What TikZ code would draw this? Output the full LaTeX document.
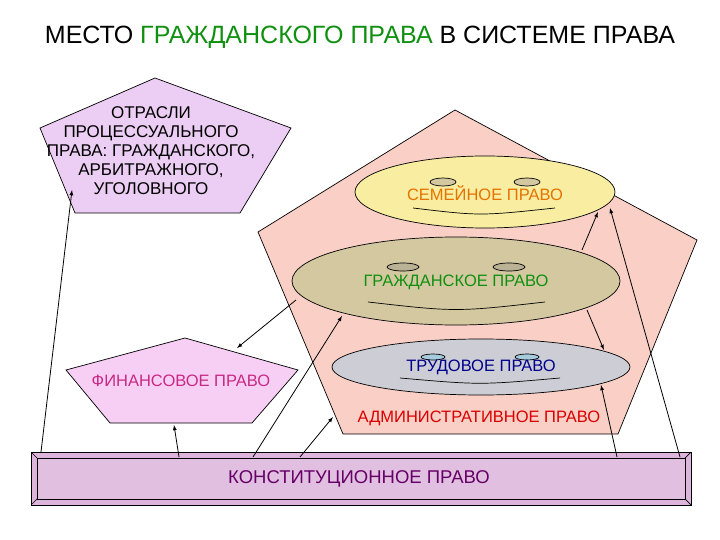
\documentclass[tikz,border=0pt]{standalone}
\usepackage{fontspec}
\setmainfont{Liberation Sans}
\begin{document}
\begin{tikzpicture}[x=1pt,y=-1pt,
  lbl/.style={font=\fontsize{16.5}{19}\selectfont,align=center,inner sep=0pt},
  arr/.style={-latex,line width=0.8pt},
  ln/.style={line width=0.7pt}]
\useasboundingbox (0,0) rectangle (720,540);
\definecolor{pinkbg}{HTML}{F9CFC6}
\definecolor{lila}{HTML}{ECCDF3}
\definecolor{fin}{HTML}{F8CFF4}
\definecolor{fam}{HTML}{F8EDA0}
\definecolor{civ}{HTML}{D4C8A0}
\definecolor{lab}{HTML}{CDCDD5}
\definecolor{con}{HTML}{DCB4DC}
\definecolor{tgreen}{HTML}{109010}
% title
\node[font=\fontsize{25}{28}\selectfont] (title) at (360,37) {МЕСТО \textcolor{tgreen}{ГРАЖДАНСКОГО ПРАВА} В СИСТЕМЕ ПРАВА};
% big pentagon
\draw[fill=pinkbg,ln] (455,110) -- (697,240) -- (618,434) -- (343,434) -- (258,232) -- cycle;
\node[lbl,text=red!85!black] (adm) at (479,418) {АДМИНИСТРАТИВНОЕ ПРАВО};
% left pentagon
\draw[fill=lila,ln] (155,78) -- (291,128) -- (240,213) -- (75,213) -- (40,128) -- cycle;
\node[lbl,font=\fontsize{17}{19}\selectfont] (proc) at (151,151) {ОТРАСЛИ\\ПРОЦЕССУАЛЬНОГО\\ПРАВА: ГРАЖДАНСКОГО,\\АРБИТРАЖНОГО,\\УГОЛОВНОГО};
% financial pentagon
\draw[fill=fin,ln] (185,338) -- (298,370) -- (252,423) -- (110,423) -- (66,370) -- cycle;
\node[lbl,text=magenta!80!black] (finl) at (181,381) {ФИНАНСОВОЕ ПРАВО};
% family
\draw[fill=fam,ln] (485,192) ellipse [x radius=130,y radius=36];
\draw[fill=civ,ln] (443,182) ellipse [x radius=13,y radius=4];
\draw[fill=civ,ln] (527,182) ellipse [x radius=13,y radius=4];
\draw[ln] (413,208) .. controls (480,216) .. (555,208);
\node[lbl,text=orange!90!black] (faml) at (485,193) {СЕМЕЙНОЕ ПРАВО};
% civil
\draw[fill=civ,ln] (456,281) ellipse [x radius=164,y radius=44];
\draw[fill=civ!70!gray,ln] (403,267) ellipse [x radius=16,y radius=4];
\draw[fill=civ!70!gray,ln] (509,267) ellipse [x radius=16,y radius=4];
\draw[ln] (368,302) .. controls (456,312) .. (545,302);
\node[lbl,text=tgreen] (civl) at (456,282) {ГРАЖДАНСКОЕ ПРАВО};
% labour
\draw[fill=lab,ln] (481,367) ellipse [x radius=149,y radius=28];
\draw[fill=cyan!25!lab,ln] (433,357) ellipse [x radius=12,y radius=3];
\draw[fill=cyan!25!lab,ln] (527,357) ellipse [x radius=12,y radius=3];
\draw[ln] (400,378) .. controls (480,385) .. (560,378);
\node[lbl,text=blue!55!black] (labl) at (481,367) {ТРУДОВОЕ ПРАВО};
% constitutional box
\draw[fill=con,ln] (31,452) rectangle (691,505);
\draw[fill=con!85!white,ln] (37,458) rectangle (685,499);
\draw[ln] (31,452) -- (37,458) (691,452) -- (685,458) (31,505) -- (37,499) (691,505) -- (685,499);
\node[font=\fontsize{18.5}{22}\selectfont,text=violet!80!black] (conl) at (359,479) {КОНСТИТУЦИОННОЕ ПРАВО};
% arrows
\coordinate (c1) at (41,452); \coordinate (p1) at (72,190);
\coordinate (c2) at (179,457); \coordinate (p2) at (174,425);
\coordinate (c3) at (253,457); \coordinate (p3) at (342,316);
\coordinate (c4) at (300,457); \coordinate (p4) at (333,417);
\coordinate (c5) at (617,457); \coordinate (p5) at (601,385);
\coordinate (c6) at (680,457); \coordinate (p6) at (610,208);
\coordinate (g1) at (582,250); \coordinate (f1) at (598,212);
\coordinate (g2) at (587,310); \coordinate (t2) at (604,350);
\coordinate (g3) at (296,300); \coordinate (fi3) at (237,348);
\draw[arr] (c1) -- (p1);
\draw[arr] (c2) -- (p2);
\draw[arr] (c3) -- (p3);
\draw[arr] (c4) -- (p4);
\draw[arr] (c5) -- (p5);
\draw[arr] (c6) -- (p6);
\draw[arr] (g1) -- (f1);
\draw[arr] (g2) -- (t2);
\draw[arr] (g3) -- (fi3);
\end{tikzpicture}
\end{document}
